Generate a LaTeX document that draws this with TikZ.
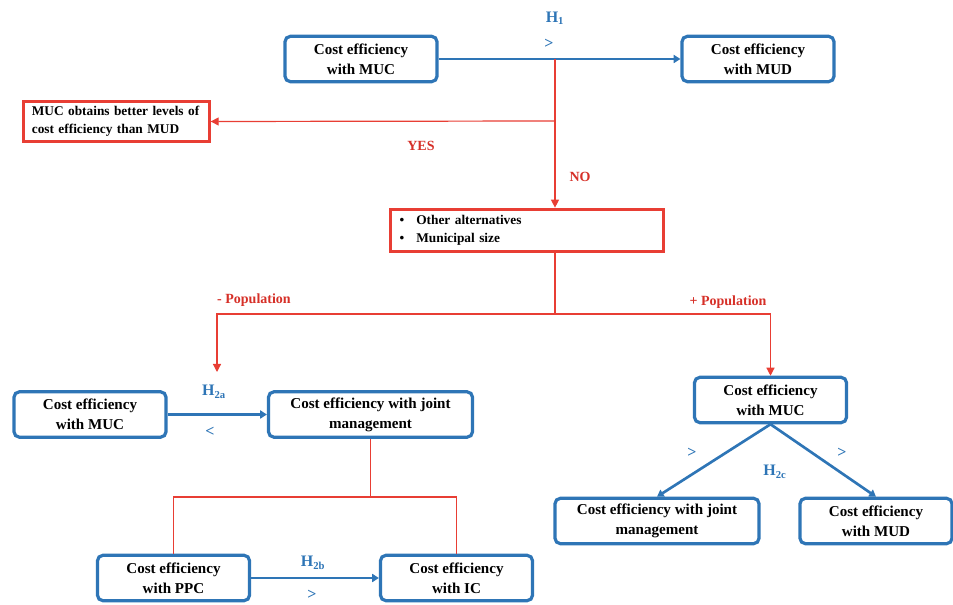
\documentclass[tikz,border=0pt]{standalone}
\usepackage{fontspec}
\setmainfont{Liberation Serif}
\usetikzlibrary{arrows.meta}

\definecolor{boxblue}{RGB}{46,117,182}
\definecolor{linered}{RGB}{232,62,52}
\definecolor{textred}{RGB}{214,48,40}
\tikzset{every picture/.style={line width=0.75pt}}

\begin{document}
\begin{tikzpicture}[x=0.75pt,y=0.75pt,yscale=-1,xscale=1,
  effbox/.style={draw=boxblue,line width=2.4pt,rounded corners=4pt,fill=white,align=center,
    font=\fontsize{11.3}{15}\selectfont\bfseries,minimum width=114pt,minimum height=34pt,inner sep=1pt},
  widebox/.style={effbox,minimum width=153pt},
  redbox/.style={draw=linered,line width=2.25pt,fill=white,align=left,
    font=\fontsize{10}{13.5}\selectfont\bfseries,inner xsep=6pt,inner ysep=2pt},
  bluearrow/.style={draw=boxblue,line width=2pt,-{Triangle[length=5pt,width=6pt]}},
  redline/.style={draw=linered,line width=0.9pt},
  redarrow/.style={redline,-{Triangle[length=6pt,width=6pt]}},
  hyp/.style={text=boxblue,font=\fontsize{12}{14}\selectfont\bfseries,inner sep=0.75pt},
  answer/.style={text=textred,font=\fontsize{10.5}{12}\selectfont\bfseries,inner sep=0.75pt}]
\useasboundingbox (0,0) rectangle (953,605);

%Top row
\node [effbox] (mucA) at (361,59) {Cost efficiency\\with MUC};
\node [effbox] (mudA) at (758,59) {Cost efficiency\\with MUD};
\draw [bluearrow] (mucA.east) -- (mudA.west);
\node [hyp] (hA) at (555,18) {H\textsubscript{1}};
\node [hyp] (gtA) at (549,44) {>};

%Yes / no branch
\node [redbox,minimum width=139pt,minimum height=30pt,text width=127pt] (better) at (116.5,121.5)
  {MUC obtains better levels of\\cost efficiency than MUD};
\node [redbox,minimum width=205pt,minimum height=32pt,text width=191pt] (others) at (527,230.5)
  {\textbullet\hspace{9pt}Other alternatives\\\textbullet\hspace{9pt}Municipal size};
\coordinate (split) at (555,59);
\coordinate (yesjn) at (555,121);
\draw [redarrow] (split) -- (split |- others.north);
\draw [redarrow] (yesjn) -- (better.east);
\node [answer] (yes) at (421,146) {YES};
\node [answer] (no) at (580,177) {NO};

%Population branch
\coordinate (popjn) at (555,314);
\coordinate (lefttip) at (217,372);
\draw [redline] (others.south -| popjn) -- (popjn);
\draw [redarrow] (popjn) -| (lefttip);
\node [answer] (popminus) at (254,300) {- Population};
\node [answer] (popplus) at (728,302) {+ Population};

%Left part
\node [effbox] (mucB) at (90,414.5) {Cost efficiency\\with MUC};
\node [widebox] (jointB) at (370.5,414.5) {Cost efficiency with joint\\management};
\draw [bluearrow] (mucB.east) -- (jointB.west);
\node [hyp] (hB) at (214,392) {H\textsubscript{2a}};
\node [hyp] (ltB) at (210,432) {<};

\node [effbox] (ppc) at (173.5,578) {Cost efficiency\\with PPC};
\node [effbox] (ic) at (456.5,578) {Cost efficiency\\with IC};
\coordinate (jointjn) at (370.5,497);
\draw [redline] (jointB.south) -- (jointjn) -| (ppc.north);
\draw [redline] (jointjn) -| (ic.north);
\draw [bluearrow] (ppc.east) -- (ic.west);
\node [hyp] (hC) at (313,563) {H\textsubscript{2b}};
\node [hyp] (gtC) at (312,595) {>};

%Right part
\node [effbox] (mucD) at (770.5,400) {Cost efficiency\\with MUC};
\draw [redarrow] (popjn) -| (mucD.north);
\node [widebox] (jointD) at (657,521) {Cost efficiency with joint\\management};
\node [effbox] (mudD) at (876,521) {Cost efficiency\\with MUD};
\draw [bluearrow] (mucD.south) -- (jointD.north);
\draw [bluearrow] (mucD.south) -- (mudD.north);
\node [hyp] (hD) at (775,472) {H\textsubscript{2c}};
\node [hyp] (gtD) at (692,453) {>};
\node [hyp] (gtE) at (842,453) {>};

\end{tikzpicture}
\end{document}
